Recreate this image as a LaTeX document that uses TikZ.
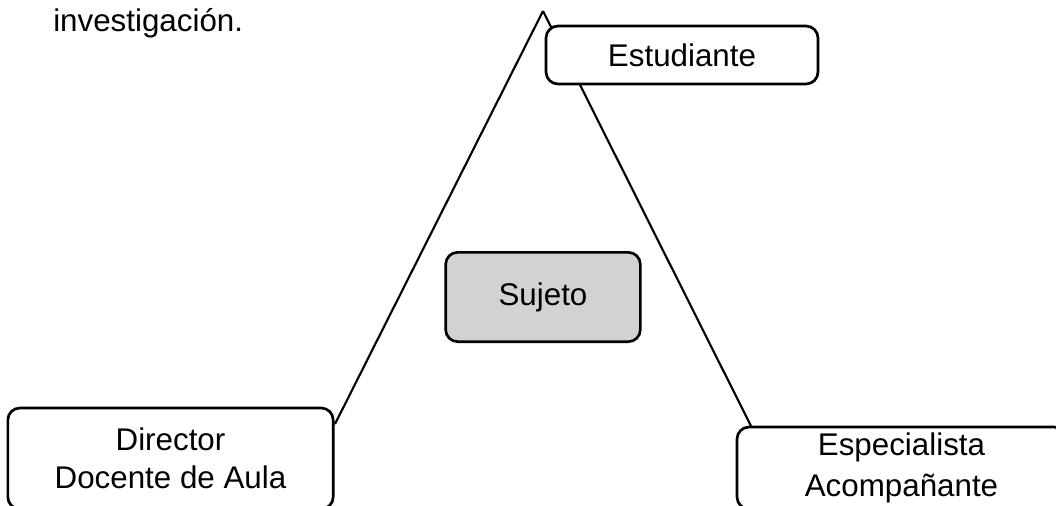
\documentclass[tikz,border=0pt]{standalone}
\usepackage{fontspec}
\setmainfont{Liberation Sans}
\definecolor{sujetogray}{RGB}{210,210,210}
\tikzset{
    rolebox/.style={draw, fill=white, rounded corners=9pt, line width=2pt, align=center,
        inner sep=0pt, font=\fontsize{23.5}{28.5}\selectfont},
    side/.style={line width=1.6pt}
}

\begin{document}
\begin{tikzpicture}[x=0.75pt, y=-0.75pt]
    \useasboundingbox (0,0) rectangle (1056,506);

    \node[anchor=base west, font=\fontsize{23.5}{28.5}\selectfont, inner sep=0pt] (intro) at (53,32) {investigación.};

    % triangle
    \coordinate (apex) at (543,11);
    \coordinate (leftfoot) at (335,424);
    \coordinate (rightfoot) at (752,428);
    \draw[side] (apex) -- (leftfoot);
    \draw[side] (apex) -- (rightfoot);

    % roles
    \node[rolebox, minimum width=204pt, minimum height=43.5pt] (estudiante) at (682,55) {Estudiante};
    \node[rolebox, fill=sujetogray, minimum width=146pt, minimum height=67pt] (sujeto) at (543,297) {Sujeto};
    \node[rolebox, minimum width=244pt, minimum height=75.75pt] (director) at (170.5,458.5) {Director\\Docente de Aula};
    \node[rolebox, minimum width=246.75pt, minimum height=61.5pt] (especialista) at (901.5,468) {Especialista\\[2pt]Acompañante};

\end{tikzpicture}
\end{document}
